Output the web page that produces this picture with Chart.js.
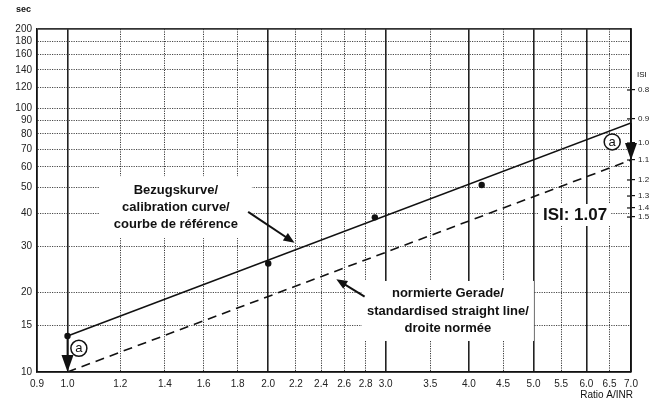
<!DOCTYPE html>
<html><head><meta charset="utf-8">
<script src="https://cdn.jsdelivr.net/npm/chart.js@4.4.1/dist/chart.umd.min.js"></script>
<style>html,body{margin:0;padding:0;background:#fff;}canvas{display:block;}</style>
</head><body>
<canvas id="c" width="668" height="407"></canvas>
<script>
// ---- data ----
const ratioTicks = [0.9,1.0,1.2,1.4,1.6,1.8,2.0,2.2,2.4,2.6,2.8,3.0,3.5,4.0,4.5,5.0,5.5,6.0,6.5,7.0];
const ratioMajor = [0.9,1.0,2.0,3.0,4.0,5.0,6.0,7.0];
const secTicks = [10,15,20,30,40,50,60,70,80,90,100,120,140,160,180,200];
const secEdges = [10,200];
const isiLabels = ['0.8','0.9','1.0','1.1','1.2','1.3','1.4','1.5'];
const isiTickSec = [117.4,91.2,73.9,63.7,53.5,46.5,41.9,38.7];
const measuredRatio = [1.0,2.0,2.89,4.18];
const measuredSec = [13.7,25.8,38.6,51.2];
const calibRatio = [1.0,7.0];
const calibSec = [13.7,88.0];
const normRatio = [1.0,7.0];
const normSec = [10.0,63.7];
const calibText = ['Bezugskurve/','calibration curve/','courbe de référence'];
const normText = ['normierte Gerade/','standardised straight line/','droite normée'];
const isiText = ['ISI: 1.07'];

// ---- annotation placement (data space) ----
const FONT = '"Liberation Sans", Arial, Helvetica, sans-serif';
const notes = {
  boxes: [
    {lines: calibText, at:[1.454,42.2], font:'bold 13px '+FONT, lineH:17, boxW:152, boxH:62},
    {lines: normText, at:[3.72,17.04], font:'bold 13px '+FONT, lineH:17.5, boxW:172, boxH:60},
    {lines: isiText, at:[5.77,39.4], font:'bold 17px '+FONT, lineH:18, boxW:72, boxH:22}
  ],
  pointers: [
    {from:[1.866,40.5], to:[2.19,30.9]},
    {from:[2.79,19.3], to:[2.53,22.5]}
  ],
  drops: [
    {from:[1.0,13.7], to:[1.0,10.0]},
    {from:[7.0,88.0], to:[7.0,63.7]}
  ],
  circles: [
    {at:[1.04,12.3], text:'a'},
    {at:[6.56,74.6], text:'a'}
  ]
};

const near = (arr, v) => arr.some(m => Math.abs(m - v) < 1e-6);

function P(chart, xv, yv){
  return [chart.scales.x.getPixelForValue(xv), chart.scales.y.getPixelForValue(yv)];
}
function head(ctx, x1, y1, x2, y2, len, half){
  const a = Math.atan2(y2-y1, x2-x1);
  ctx.beginPath();
  ctx.moveTo(x2, y2);
  ctx.lineTo(x2 - len*Math.cos(a) + half*Math.sin(a), y2 - len*Math.sin(a) - half*Math.cos(a));
  ctx.lineTo(x2 - len*Math.cos(a) - half*Math.sin(a), y2 - len*Math.sin(a) + half*Math.cos(a));
  ctx.closePath();
  ctx.fill();
}

const decor = {
  id:'decor',
  beforeDatasetsDraw(chart){
    const ctx = chart.ctx;
    ctx.save();
    ctx.fillStyle = '#fff';
    notes.boxes.forEach(b => {
      const [cx, cy] = P(chart, b.at[0], b.at[1]);
      ctx.fillRect(cx - b.boxW/2, cy - b.boxH/2, b.boxW, b.boxH);
    });
    ctx.restore();
  },
  afterDatasetsDraw(chart){
    const ctx = chart.ctx;
    const ca = chart.chartArea;
    ctx.save();
    ctx.fillStyle = '#111';
    ctx.strokeStyle = '#111';
    // inward part of the ISI tick marks
    const isi = chart.scales.isi;
    ctx.lineWidth = 1.2;
    isiTickSec.forEach(v => {
      const y = isi.getPixelForValue(v);
      ctx.beginPath();
      ctx.moveTo(ca.right - 4, y);
      ctx.lineTo(ca.right, y);
      ctx.stroke();
    });
    // text blocks
    ctx.textAlign = 'center';
    ctx.textBaseline = 'middle';
    notes.boxes.forEach(b => {
      const [cx, cy] = P(chart, b.at[0], b.at[1]);
      ctx.font = b.font;
      b.lines.forEach((t, i) => {
        ctx.fillText(t, cx, cy + (i - (b.lines.length-1)/2) * b.lineH);
      });
    });
    // pointer arrows
    ctx.lineWidth = 2;
    notes.pointers.forEach(p => {
      const [x1, y1] = P(chart, p.from[0], p.from[1]);
      const [x2, y2] = P(chart, p.to[0], p.to[1]);
      const a = Math.atan2(y2-y1, x2-x1);
      ctx.beginPath();
      ctx.moveTo(x1, y1);
      ctx.lineTo(x2 - 6*Math.cos(a), y2 - 6*Math.sin(a));
      ctx.stroke();
      head(ctx, x1, y1, x2, y2, 11, 4.5);
    });
    // vertical drop arrows
    ctx.lineWidth = 1.8;
    notes.drops.forEach(p => {
      const [x1, y1] = P(chart, p.from[0], p.from[1]);
      const [x2, y2] = P(chart, p.to[0], p.to[1]);
      ctx.beginPath();
      ctx.moveTo(x1, y1);
      ctx.lineTo(x2, y2 - 10);
      ctx.stroke();
      head(ctx, x1, y1, x2, y2, 17, 6);
    });
    // circled letters
    ctx.lineWidth = 1.5;
    ctx.font = '13px ' + FONT;
    notes.circles.forEach(c => {
      const [x, y] = P(chart, c.at[0], c.at[1]);
      ctx.beginPath();
      ctx.arc(x, y, 8, 0, Math.PI*2);
      ctx.fillStyle = '#fff';
      ctx.fill();
      ctx.stroke();
      ctx.fillStyle = '#111';
      ctx.fillText(c.text, x, y + 0.5);
    });
    // axis titles
    ctx.font = 'bold 9px ' + FONT;
    ctx.textAlign = 'left';
    ctx.fillText('sec', ca.left - 21, 10);
    ctx.font = '10px ' + FONT;
    ctx.textAlign = 'right';
    ctx.fillText('Ratio A/INR', ca.right + 2, 395);
    ctx.font = '8px ' + FONT;
    ctx.textAlign = 'left';
    ctx.fillText('ISI', ca.right + 6, 75);
    ctx.restore();
  }
};

const labelFont = {family: FONT, size: 10};

new Chart(document.getElementById('c'), {
  type: 'scatter',
  data: {
    datasets: [
      {label:'normierte Gerade', data: normRatio.map((x,i)=>({x, y:normSec[i]})), showLine:true,
       borderColor:'#111', borderWidth:1.6, borderDash:[9,6], pointRadius:0},
      {label:'Bezugskurve', data: calibRatio.map((x,i)=>({x, y:calibSec[i]})), showLine:true,
       borderColor:'#111', borderWidth:1.6, pointRadius:0},
      {label:'Messpunkte', data: measuredRatio.map((x,i)=>({x, y:measuredSec[i]})), showLine:false,
       pointRadius:3.2, backgroundColor:'#111', borderColor:'#111', borderWidth:0}
    ]
  },
  options: {
    responsive:false, animation:false, devicePixelRatio:1,
    layout:{padding:{top:29, left:0, right:0, bottom:0}},
    plugins:{legend:{display:false}, tooltip:{enabled:false}},
    scales:{
      x:{
        type:'logarithmic', min:0.9, max:7.0, position:'bottom',
        afterBuildTicks: s => { s.ticks = ratioTicks.map(v => ({value:v})); },
        afterFit: s => { s.height = 35; },
        ticks:{autoSkip:false, maxRotation:0, padding:6, color:'#222', font:labelFont,
               callback: v => Number(v).toFixed(1)},
        grid:{drawTicks:false, color:'#222',
              lineWidth: c => (c.tick && near(ratioMajor, c.tick.value)) ? 1.6 : 0.9},
        border:{display:true, color:'#111', width:1.6,
                dash: c => (c.tick && !near(ratioMajor, c.tick.value)) ? [1.2,1.2] : []}
      },
      y:{
        type:'logarithmic', min:10, max:200, position:'left',
        afterBuildTicks: s => { s.ticks = secTicks.map(v => ({value:v})); },
        afterFit: s => { s.width = 37; },
        ticks:{autoSkip:false, padding:5, color:'#222', font:labelFont,
               callback: v => String(v)},
        grid:{drawTicks:false, color:'#333',
              lineWidth: c => (c.tick && near(secEdges, c.tick.value)) ? 1.8 : 0.9},
        border:{display:true, color:'#111', width:1.6,
                dash: c => (c.tick && !near(secEdges, c.tick.value)) ? [1.2,1.2] : []}
      },
      isi:{
        type:'logarithmic', min:10, max:200, position:'right',
        afterBuildTicks: s => { s.ticks = isiTickSec.map(v => ({value:v})); },
        afterFit: s => { s.width = 37; },
        ticks:{autoSkip:false, padding:3, color:'#222', font:{family:FONT, size:8},
               callback: (v, i) => isiLabels[i]},
        grid:{drawOnChartArea:false, drawTicks:true, tickLength:4, color:'#111', lineWidth:1.2},
        border:{display:true, color:'#111', width:1.8}
      }
    }
  },
  plugins:[decor]
});
</script>
</body></html>
